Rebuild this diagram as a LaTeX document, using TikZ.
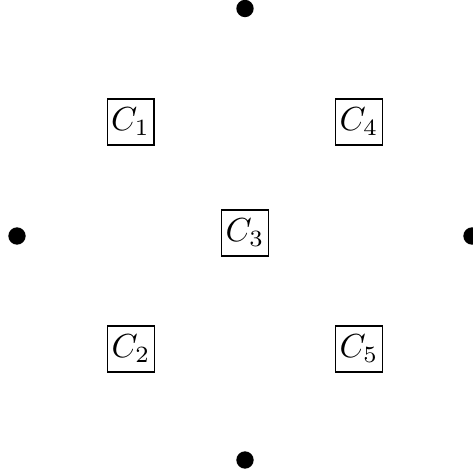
\documentclass[tikz,border=0pt]{standalone}
\begin{document}
\begin{tikzpicture}[x=0.3pt,y=-0.3pt,
  cbox/.style={draw,line width=0.4pt,minimum width=14pt,minimum height=13.8pt,inner sep=0pt},
  dotnode/.style={circle,fill=black,inner sep=0pt,minimum size=5.2pt}]
\useasboundingbox (0,0) rectangle (473,475);
\node[dotnode] (top) at (245,8.5) {};
\node[dotnode] (left) at (17,236) {};
\node[dotnode] (right) at (472,236) {};
\node[dotnode] (bottom) at (245,460) {};
\node[cbox] (c1) at (130.5,122) {$C_1$};
\node[cbox] (c4) at (359,122) {$C_4$};
\node[cbox] (c3) at (245,233) {$C_3$};
\node[cbox] (c2) at (131,349) {$C_2$};
\node[cbox] (c5) at (359,349) {$C_5$};
\end{tikzpicture}
\end{document}
